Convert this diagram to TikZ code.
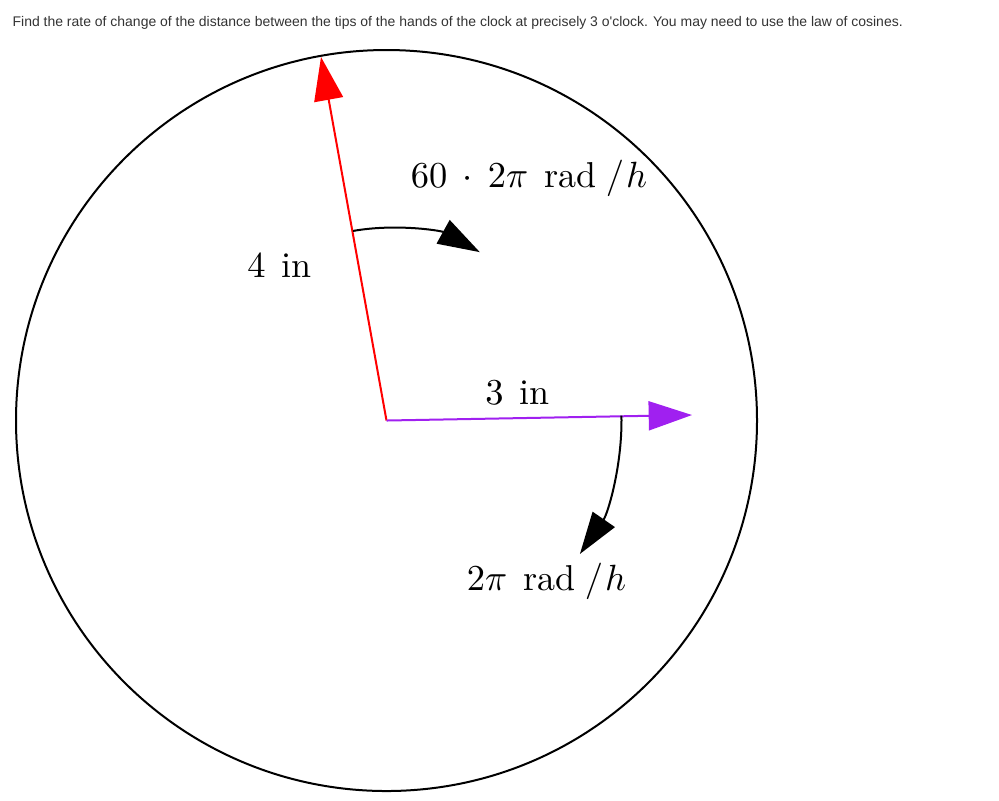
\documentclass[tikz,border=0pt]{standalone}
\usepackage{fontspec}
\newfontfamily\qfont{Liberation Sans}
\usetikzlibrary{arrows.meta}
\definecolor{qgray}{HTML}{333333}
\definecolor{hpurple}{HTML}{A020F0}
\newcommand{\unitgap}{\mkern8mu}
\newcommand{\slashgap}{\mkern4.5mu/\mkern1mu}
\newcommand{\bigcdot}{\mkern3.5mu\cdot\mkern3.5mu}
\begin{document}
\begin{tikzpicture}[x=0.3pt,y=-0.3pt,
  qtext/.style={font=\qfont\fontsize{4.19}{5}\selectfont, text=qgray, inner sep=0pt, anchor=west},
  lbl/.style={font=\fontsize{10.8}{13}\selectfont, inner sep=0pt},
  hand/.style={line width=0.6pt, -{Triangle[length=13pt,width=8.7pt]}},
  rot/.style={line width=0.6pt, -{Triangle[length=12.6pt,width=8pt]}},
  dial/.style={circle, draw, line width=0.6pt, inner sep=0pt, minimum size=222.3pt}]
\useasboundingbox (0,0) rectangle (999,800);
\node[qtext] (q) at (12,23) {Find the rate of change of the distance between the tips of the hands of the clock at precisely 3 o'clock. You may need to use the law of cosines.};
\coordinate (O) at (386.5,420.5);
\node[dial] (clock) at (O) {};
\coordinate (R) at (321,57);
\coordinate (P) at (692,415);
\draw[hand, red] (O) -- (R);
\draw[hand, hpurple] (O) -- (P);
\draw[rot] (O) ++(-100:192.5) arc[start angle=-100, end angle=-61, radius=192.5];
\draw[rot] (O) ++(-1.2:235) arc[start angle=-1.2, end angle=34.6, radius=235];
\node[lbl] (l4) at (279.5,266) {$4\unitgap\mathrm{in}$};
\node[lbl] (l60) at (529,178) {$60\bigcdot 2\pi\unitgap\mathrm{rad}\slashgap h$};
\node[lbl] (l3) at (517.5,393) {$3\unitgap\mathrm{in}$};
\node[lbl] (l2) at (546.5,581) {$2\pi\unitgap\mathrm{rad}\slashgap h$};
\end{tikzpicture}
\end{document}
